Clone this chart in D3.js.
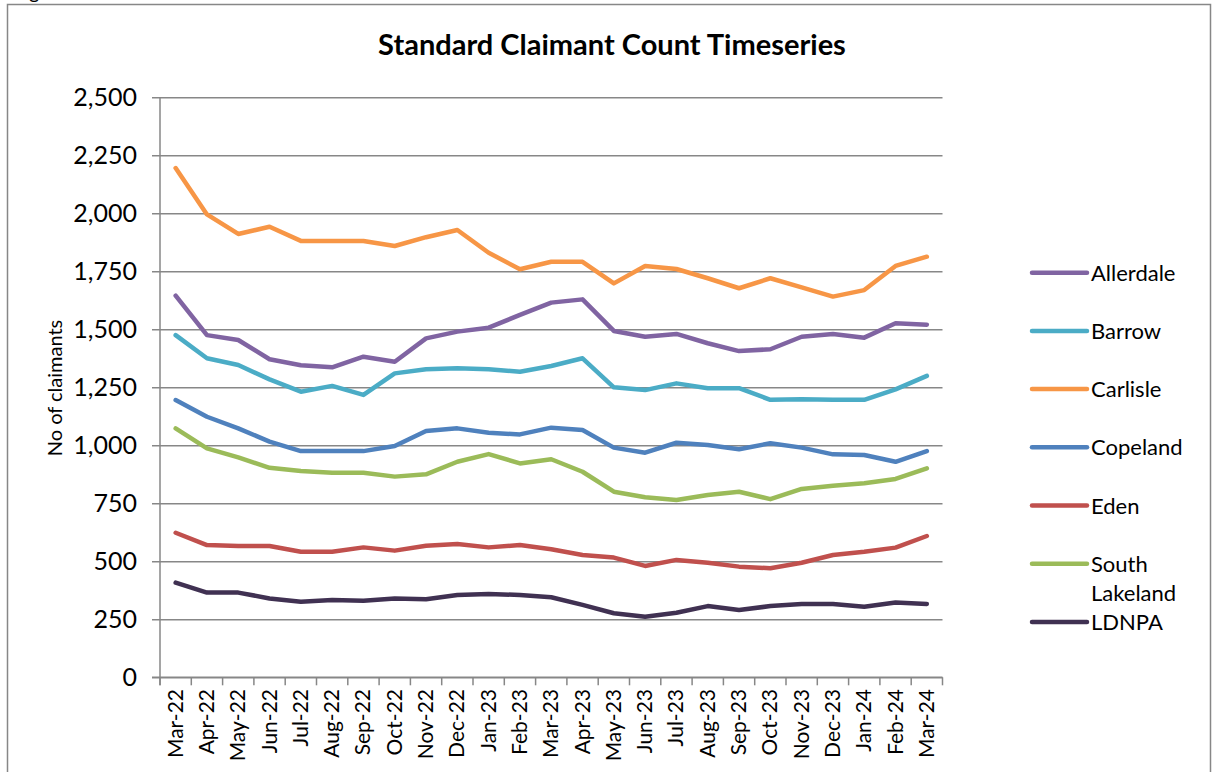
<!DOCTYPE html>
<html>
<head>
<meta charset="utf-8">
<script src="https://d3js.org/d3.v7.min.js"></script>
<style>
  body { margin: 0; background: #fff; }
  text { font-family: Lato, "Open Sans", sans-serif; fill: #000; }
</style>
</head>
<body>
<svg id="chart" width="1213" height="772"></svg>
<script>
var months = ['Mar-22', 'Apr-22', 'May-22', 'Jun-22', 'Jul-22', 'Aug-22', 'Sep-22', 'Oct-22', 'Nov-22',
  'Dec-22', 'Jan-23', 'Feb-23', 'Mar-23', 'Apr-23', 'May-23', 'Jun-23', 'Jul-23', 'Aug-23', 'Sep-23',
  'Oct-23', 'Nov-23', 'Dec-23', 'Jan-24', 'Feb-24', 'Mar-24'];

var allerdale = [1645, 1475, 1454, 1371, 1345, 1336, 1382, 1360, 1461, 1490, 1507, 1562, 1615,
  1629, 1493, 1468, 1480, 1440, 1406, 1414, 1468, 1480, 1464, 1526, 1520];
var barrow = [1475, 1375, 1346, 1284, 1231, 1256, 1217, 1310, 1328, 1332, 1328, 1317, 1342,
  1375, 1250, 1238, 1267, 1246, 1246, 1196, 1198, 1196, 1196, 1241, 1299];
var carlisle = [2195, 1995, 1911, 1942, 1881, 1881, 1881, 1859, 1897, 1928, 1830, 1759, 1791,
  1791, 1698, 1773, 1760, 1720, 1677, 1720, 1681, 1641, 1669, 1773, 1813];
var copeland = [1195, 1123, 1073, 1016, 975, 975, 975, 997, 1062, 1073, 1054, 1047, 1076,
  1066, 990, 968, 1011, 1001, 983, 1009, 990, 961, 958, 929, 975];
var eden = [623, 570, 566, 566, 541, 541, 560, 546, 567, 575, 560, 570, 552,
  527, 516, 480, 506, 494, 477, 470, 494, 527, 541, 559, 609];
var southLakeland = [1073, 987, 948, 903, 889, 882, 882, 865, 875, 929, 962, 922, 940,
  886, 800, 776, 764, 786, 800, 768, 812, 826, 836, 855, 901];
var ldnpa = [408, 365, 365, 340, 326, 333, 330, 340, 336, 355, 359, 355, 345,
  312, 276, 261, 278, 307, 290, 307, 316, 316, 304, 322, 316];

var yTicks = [0, 250, 500, 750, 1000, 1250, 1500, 1750, 2000, 2250, 2500];

var series = [
  {name: 'Allerdale', values: allerdale, color: '#8064A2'},
  {name: 'Barrow', values: barrow, color: '#4BACC6'},
  {name: 'Carlisle', values: carlisle, color: '#F79646'},
  {name: 'Copeland', values: copeland, color: '#4F81BD'},
  {name: 'Eden', values: eden, color: '#C0504D'},
  {name: 'South Lakeland', values: southLakeland, color: '#9BBB59'},
  {name: 'LDNPA', values: ldnpa, color: '#403152'}
];

var svg = d3.select('#chart');
var plotLeft = 160, plotRight = 942.5, plotTop = 97.3, plotBottom = 677.3;
var axisColor = '#878787';

svg.append('rect').attr('width', 1213).attr('height', 772).attr('fill', '#fff');
// outer chart frame (bottom runs off the page)
svg.append('rect')
  .attr('x', 7.5).attr('y', 4.5).attr('width', 1203).attr('height', 820)
  .attr('fill', 'none').attr('stroke', axisColor).attr('stroke-width', 1.5);
// remnant of the caption above the chart
svg.append('text').attr('x', 13).attr('y', -1).attr('font-size', 20).text('Figure');

var x = d3.scaleBand().domain(months).range([plotLeft, plotRight]);
var y = d3.scaleLinear().domain([0, 2500]).range([plotBottom, plotTop]);

svg.append('text')
  .attr('x', 612).attr('y', 55)
  .attr('text-anchor', 'middle')
  .attr('font-size', 29).attr('font-weight', 'bold')
  .text('Standard Claimant Count Timeseries');

// gridlines + y axis
var yAxis = svg.append('g').attr('transform', 'translate(' + plotLeft + ',0)')
  .call(d3.axisLeft(y).tickValues(yTicks).tickSize(-(plotRight - plotLeft)).tickSizeOuter(0)
    .tickPadding(23).tickFormat(d3.format(',')));
yAxis.select('.domain').remove();
yAxis.selectAll('.tick line').attr('stroke', axisColor).attr('stroke-width', 1.5).attr('x1', -8);
yAxis.selectAll('.tick text').attr('font-size', 25).attr('font-family', 'Lato, sans-serif');

svg.append('line')
  .attr('x1', plotLeft).attr('x2', plotLeft).attr('y1', plotTop).attr('y2', plotBottom + 8)
  .attr('stroke', axisColor).attr('stroke-width', 1.5);
svg.append('line')
  .attr('x1', plotLeft - 8).attr('x2', plotRight).attr('y1', plotBottom).attr('y2', plotBottom)
  .attr('stroke', axisColor).attr('stroke-width', 1.5);

// x axis ticks at category boundaries
var bounds = months.map(function (m) { return x(m); }).concat([plotRight]);
svg.selectAll('.xtick').data(bounds).enter().append('line')
  .attr('x1', function (d) { return d; }).attr('x2', function (d) { return d; })
  .attr('y1', plotBottom).attr('y2', plotBottom + 8)
  .attr('stroke', axisColor).attr('stroke-width', 1.5);

svg.selectAll('.xlabel').data(months).enter().append('text')
  .attr('text-anchor', 'end')
  .attr('font-size', 21)
  .attr('transform', function (d) {
    return 'translate(' + (x(d) + x.bandwidth() / 2 + 7) + ',689) rotate(-90)';
  })
  .text(function (d) { return d; });

svg.append('text')
  .attr('transform', 'translate(62,388) rotate(-90)')
  .attr('text-anchor', 'middle')
  .attr('font-size', 20)
  .text('No of claimants');

var line = d3.line()
  .x(function (d, i) { return x(months[i]) + x.bandwidth() / 2; })
  .y(function (d) { return y(d); });

// draw back to front so Allerdale ends up on top like the legend order
series.slice().reverse().forEach(function (s) {
  svg.append('path')
    .datum(s.values)
    .attr('d', line)
    .attr('fill', 'none')
    .attr('stroke', s.color)
    .attr('stroke-width', 4.5)
    .attr('stroke-linejoin', 'round')
    .attr('stroke-linecap', 'round');
});

// legend
var legend = svg.append('g');
series.forEach(function (s, i) {
  var ly = 272.7 + i * 58.2;
  legend.append('line')
    .attr('x1', 1032).attr('x2', 1087).attr('y1', ly).attr('y2', ly)
    .attr('stroke', s.color).attr('stroke-width', 4.5).attr('stroke-linecap', 'round');
  var t = legend.append('text').attr('x', 1091).attr('y', ly + 8).attr('font-size', 22);
  var words = s.name.split(' ');
  words.forEach(function (w, j) {
    t.append('tspan').attr('x', 1091).attr('dy', j === 0 ? 0 : 29).text(w);
  });
});
</script>
</body>
</html>
